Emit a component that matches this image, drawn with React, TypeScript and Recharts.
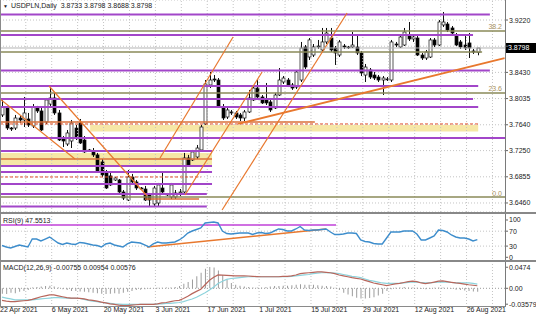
import React from "react";
import {
  Bar,
  CartesianGrid,
  ComposedChart,
  Line,
  ReferenceArea,
  ReferenceLine,
  XAxis,
  YAxis,
} from "recharts";

// daily USDPLN candles, 22 Apr - 27 Aug 2021 (broker feed with Sunday bars)
const open = [
  3.7788, 3.7893, 3.7591, 3.7591, 3.7742, 3.7712, 3.7727, 3.7621, 3.7893, 3.7848,
  3.7682, 3.7953, 3.8044, 3.7818, 3.744, 3.735, 3.7395, 3.7591, 3.7667, 3.741,
  3.7245, 3.7245, 3.7185, 3.7079, 3.6928, 3.6868, 3.6807, 3.6807, 3.6626, 3.6505,
  3.6852, 3.6777, 3.6686, 3.6671, 3.6581, 3.6445, 3.646, 3.6686, 3.6596, 3.655,
  3.655, 3.6611, 3.6626, 3.7139, 3.7109, 3.7154, 3.726, 3.7652, 3.824, 3.833,
  3.8315, 3.7908, 3.7757, 3.7833, 3.7818, 3.7788, 3.7742, 3.7833, 3.8014, 3.8194,
  3.8059, 3.8014, 3.7984, 3.7893, 3.8089, 3.8285, 3.8315, 3.824, 3.8209, 3.8315,
  3.8813, 3.8662, 3.8692, 3.8813, 3.8768, 3.8889, 3.8949, 3.8798, 3.8692, 3.8828,
  3.8813, 3.8813, 3.8813, 3.8723, 3.839, 3.8466, 3.839, 3.836, 3.8315, 3.833,
  3.8315, 3.8858, 3.8813, 3.8843, 3.8979, 3.8934, 3.8949, 3.8692, 3.8647, 3.8662,
  3.8919, 3.8843, 3.9145, 3.916, 3.91, 3.8994, 3.8889, 3.8843, 3.8874, 3.8753,
  3.8733,
];
const high = [
  3.8014, 3.7924, 3.7606, 3.7788, 3.7773, 3.8059, 3.7818, 3.7953, 3.7924, 3.7893,
  3.8044, 3.8209, 3.812, 3.7863, 3.747, 3.7561, 3.7712, 3.7637, 3.7727, 3.747,
  3.7275, 3.7289, 3.7215, 3.7124, 3.6958, 3.6913, 3.6852, 3.6822, 3.6656, 3.6958,
  3.6898, 3.6807, 3.6701, 3.6717, 3.6611, 3.6717, 3.6762, 3.6913, 3.6611, 3.6762,
  3.6656, 3.6671, 3.7215, 3.7185, 3.726, 3.7335, 3.7637, 3.8315, 3.8436, 3.839,
  3.8345, 3.7953, 3.7893, 3.7863, 3.7848, 3.7818, 3.7863, 3.8165, 3.8225, 3.8315,
  3.8089, 3.827, 3.8014, 3.812, 3.8496, 3.8375, 3.8345, 3.827, 3.8466, 3.8889,
  3.8843, 3.8949, 3.8858, 3.8919, 3.91, 3.91, 3.91, 3.8828, 3.8919, 3.8858,
  3.8828, 3.9039, 3.8994, 3.8753, 3.8557, 3.8496, 3.8436, 3.839, 3.8375, 3.836,
  3.8919, 3.8889, 3.8994, 3.91, 3.919, 3.8994, 3.8979, 3.8723, 3.8768, 3.8949,
  3.8949, 3.922, 3.9341, 3.919, 3.913, 3.9024, 3.8919, 3.9009, 3.9024, 3.8783,
  3.8798,
];
const low = [
  3.7757, 3.7561, 3.7546, 3.7561, 3.7667, 3.7606, 3.7606, 3.7591, 3.7818, 3.7546,
  3.7652, 3.7893, 3.7788, 3.7395, 3.7304, 3.732, 3.7289, 3.741, 3.735, 3.7215,
  3.723, 3.7154, 3.6913, 3.6852, 3.6671, 3.6717, 3.6792, 3.6611, 3.6505, 3.649,
  3.6747, 3.6656, 3.6656, 3.649, 3.6399, 3.6414, 3.6414, 3.6596, 3.6566, 3.652,
  3.652, 3.6566, 3.6596, 3.7003, 3.7094, 3.7124, 3.7245, 3.7637, 3.8194, 3.8285,
  3.7893, 3.7712, 3.7727, 3.7788, 3.7727, 3.7697, 3.7697, 3.7818, 3.7999, 3.8029,
  3.7953, 3.7938, 3.7833, 3.7878, 3.8074, 3.8255, 3.8209, 3.8165, 3.8179, 3.8285,
  3.8481, 3.8617, 3.8662, 3.8783, 3.8738, 3.8858, 3.8738, 3.8542, 3.8662, 3.8783,
  3.8783, 3.8798, 3.8692, 3.8375, 3.8285, 3.833, 3.8315, 3.8285, 3.8089, 3.83,
  3.8285, 3.8813, 3.8798, 3.8828, 3.8904, 3.8889, 3.8677, 3.8617, 3.8617, 3.8647,
  3.8813, 3.8828, 3.9115, 3.9039, 3.8994, 3.8828, 3.8783, 3.8768, 3.8647, 3.8708,
  3.8688,
];
const close = [
  3.7908, 3.7591, 3.7576, 3.7742, 3.7712, 3.7818, 3.7637, 3.7908, 3.7848, 3.7561,
  3.8014, 3.8044, 3.7818, 3.741, 3.7395, 3.7516, 3.7667, 3.744, 3.7365, 3.723,
  3.726, 3.7185, 3.6928, 3.6883, 3.6686, 3.6732, 3.6837, 3.6626, 3.6535, 3.6852,
  3.6777, 3.6686, 3.6671, 3.6505, 3.6505, 3.6686, 3.6732, 3.6626, 3.6581, 3.6732,
  3.6611, 3.6626, 3.7139, 3.7034, 3.723, 3.7289, 3.7606, 3.8255, 3.8315, 3.8315,
  3.7908, 3.7742, 3.7863, 3.7818, 3.7757, 3.7742, 3.7833, 3.8044, 3.8194, 3.8059,
  3.7969, 3.7969, 3.7863, 3.8089, 3.8315, 3.8345, 3.824, 3.8194, 3.8436, 3.8798,
  3.8511, 3.8919, 3.8813, 3.8828, 3.8889, 3.9024, 3.8768, 3.8723, 3.8889, 3.8813,
  3.8806, 3.8843, 3.8723, 3.8421, 3.8511, 3.836, 3.8345, 3.8315, 3.8345, 3.8323,
  3.8889, 3.8843, 3.8964, 3.9039, 3.8934, 3.8964, 3.8692, 3.8647, 3.8738, 3.8919,
  3.8843, 3.919, 3.919, 3.907, 3.9024, 3.8843, 3.8813, 3.8798, 3.8798, 3.8738,
  3.8798,
];

const rsi = [
  31.6, 27.6, 24.9, 29, 33, 30.3, 27.6, 49, 49, 43.7,
  49, 54.4, 46.4, 38.3, 34.3, 38.3, 35.7, 34.3, 39.7, 38.3,
  35.7, 33, 31.6, 27.6, 35.7, 38.3, 33, 30.3, 27.6, 35.7,
  41, 39.7, 38.3, 33, 27.6, 35.7, 41, 38.3, 38.3, 39.7,
  41, 46.4, 54.4, 65.1, 70.5, 74.5, 78.6, 92, 93.3, 94.6,
  92, 70.5, 63.8, 62.5, 63.8, 65.1, 65.1, 65.1, 61.1, 65.1,
  66.5, 63.8, 65.1, 70.5, 75.9, 74.5, 70.5, 70.5, 75.9, 82.6,
  73.2, 71.8, 73.2, 73.2, 74.5, 75.9, 67.8, 61.1, 61.1, 62.5,
  65.1, 65.1, 63.8, 46.4, 42.4, 41, 37, 35.7, 35.7, 51.7,
  67.8, 67.8, 67.8, 70.5, 70.5, 70.5, 62.5, 46.4, 46.4, 51.7,
  57.1, 73.2, 71.8, 67.8, 59.8, 54.4, 51.7, 51.7, 49, 43.7,
  47.55,
];

const macdMain = [
  -0.027, -0.029, -0.03, -0.03, -0.029, -0.028, -0.027, -0.025, -0.022, -0.019,
  -0.017, -0.015, -0.015, -0.017, -0.019, -0.021, -0.022, -0.022, -0.0225, -0.024,
  -0.026, -0.027, -0.029, -0.031, -0.033, -0.035, -0.036, -0.038, -0.039, -0.039,
  -0.038, -0.037, -0.036, -0.036, -0.036, -0.036, -0.035, -0.033, -0.032, -0.03,
  -0.028, -0.027, -0.023, -0.018, -0.012, -0.007, -0.002, 0.008, 0.018, 0.025,
  0.03, 0.0295, 0.029, 0.0285, 0.028, 0.028, 0.028, 0.0277, 0.027, 0.0265,
  0.026, 0.026, 0.026, 0.026, 0.026, 0.027, 0.027, 0.028, 0.03, 0.033,
  0.034, 0.035, 0.036, 0.037, 0.037, 0.036, 0.035, 0.033, 0.03, 0.028,
  0.026, 0.024, 0.0225, 0.021, 0.018, 0.015, 0.012, 0.01, 0.008, 0.006,
  0.008, 0.01, 0.011, 0.013, 0.015, 0.016, 0.015, 0.012, 0.0105, 0.012,
  0.014, 0.016, 0.0165, 0.015, 0.0135, 0.012, 0.011, 0.0095, 0.008, 0.0068,
  0.00576,
];
const macdSignal = [
  -0.02, -0.022, -0.024, -0.026, -0.026, -0.026, -0.026, -0.026, -0.025, -0.024,
  -0.023, -0.022, -0.021, -0.021, -0.0215, -0.022, -0.0225, -0.0225, -0.023, -0.025,
  -0.027, -0.029, -0.03, -0.032, -0.033, -0.034, -0.035, -0.0355, -0.036, -0.036,
  -0.036, -0.036, -0.036, -0.036, -0.036, -0.036, -0.035, -0.035, -0.034, -0.034,
  -0.033, -0.032, -0.03, -0.027, -0.024, -0.02, -0.015, -0.01, -0.004, 0.003,
  0.011, 0.016, 0.02, 0.022, 0.023, 0.024, 0.025, 0.026, 0.026, 0.026,
  0.026, 0.026, 0.026, 0.026, 0.026, 0.026, 0.026, 0.027, 0.028, 0.029,
  0.03, 0.031, 0.033, 0.034, 0.035, 0.035, 0.0345, 0.034, 0.033, 0.031,
  0.029, 0.027, 0.026, 0.024, 0.021, 0.018, 0.016, 0.014, 0.012, 0.0113,
  0.0113, 0.0113, 0.0113, 0.012, 0.0135, 0.0145, 0.014, 0.013, 0.012, 0.012,
  0.013, 0.014, 0.0145, 0.014, 0.013, 0.012, 0.012, 0.0125, 0.012, 0.011,
  0.00954,
];
const macdHist = [
  -0.012, -0.013, -0.01, -0.011, -0.008, -0.006, -0.004, 0.002, 0.003, 0.004,
  0.005, 0.006, 0.004, 0.002, -0.002, -0.004, -0.006, -0.006, -0.007, -0.008,
  -0.009, -0.01, -0.011, -0.012, -0.013, -0.012, -0.011, -0.012, -0.01, -0.008,
  -0.006, -0.004, -0.003, -0.002, -0.001, 0, 0.001, 0.001, 0.002, 0.002,
  0.003, 0.005, 0.01, 0.014, 0.02, 0.027, 0.035, 0.044, 0.048, 0.047,
  0.04, 0.03, 0.02, 0.012, 0.008, 0.006, 0.004, 0.003, 0.002, 0.002,
  0.002, 0.003, 0.004, 0.005, 0.005, 0.006, 0.006, 0.007, 0.008, 0.009,
  0.008, 0.008, 0.008, 0.007, 0.006, 0.005, 0.004, 0.001, -0.004, -0.01,
  -0.014, -0.018, -0.021, -0.023, -0.023, -0.022, -0.02, -0.016, -0.012, -0.006,
  -0.002, 0.001, 0.002, 0.003, 0.002, 0.002, 0.001, -0.001, -0.002, -0.001,
  0.001, 0.002, 0.002, 0.001, -0.001, -0.003, -0.004, -0.005, -0.006, -0.007,
  -0.00755,
];

const dateTicks = [0, 12, 24, 36, 48, 60, 72, 84, 96, 108];
const dateLabels = [
  "22 Apr 2021", "6 May 2021", "20 May 2021", "3 Jun 2021", "17 Jun 2021",
  "1 Jul 2021", "15 Jul 2021", "29 Jul 2021", "12 Aug 2021", "26 Aug 2021",
];
const gridBars = [6, 12, 18, 24, 30, 36, 42, 48, 54, 60, 66, 72, 78, 84, 90, 96, 102, 108, 114];
const priceTicks = [3.922, 3.8825, 3.843, 3.8035, 3.764, 3.725, 3.6855, 3.646];
const rsiTicks = [100, 70, 30, 0];
const macdTicks = [0.0474, 0, -0.03579];
const macdTickLabels = ["0.0474", "0.00", "-0.03579"];

// drawn objects on the price window: [price, fromBar, toBar]
const purpleLevels = [
  [3.9303, -0.46, 112.9],
  [3.8995, -0.46, 109.0],
  [3.8458, -0.46, 112.9],
  [3.8225, -0.46, 110.2],
  [3.8029, -0.46, 109.0],
  [3.7908, -0.46, 110.2],
  [3.744, -0.46, 116.4],
  [3.7245, -0.46, 48.6],
  [3.7018, -0.46, 48.6],
  [3.6928, -0.46, 48.6],
  [3.6747, -0.46, 48.6],
  [3.6596, -0.46, 47.4],
  [3.6407, -0.46, 47.4],
];
const orangeLevels = [
  [3.7682, -0.46, 72.4],
  [3.7124, -0.46, 48.6],
  [3.652, 33.1, 45.6],
];
const dashedLevels = [
  [3.7652, -0.46, 110.2],
  [3.6852, -0.46, 46.0],
];
const fibLevels = [3.9055, 3.812, 3.655];
const fibNames = ["38.2", "23.6", "0.0"];
const oliveExtra = [3.8738];
// yellow zones: [top, bottom, fromBar, toBar]
const zones = [
  [3.7637, 3.7539, 20.4, 110.2],
  [3.7215, 3.7018, -0.46, 48.6],
];
// trend lines: [bar1, price1, bar2, price2]
const trendLines = [
  [-0.46, 3.8029, 16.9, 3.7124],
  [10.88, 3.8225, 33.56, 3.6565],
  [36.57, 3.7139, 53.47, 3.8964],
  [42.36, 3.6581, 60.19, 3.8436],
  [50.93, 3.6354, 79.86, 3.9326],
  [54.63, 3.7652, 116.3, 3.8647],
];
const rsiMarks = { level: 86.6, levelTo: 77.3, trend: [33.56, 27.6, 75, 75.9] };

const rows = open.map((o, i) => ({
  i,
  o,
  h: high[i],
  l: low[i],
  c: close[i],
  range: [low[i], high[i]],
  rsi: rsi[i],
  macd: macdMain[i],
  signal: macdSignal[i],
  hist: macdHist[i],
}));

const X_DOMAIN: [number, number] = [-0.463, 116.4];
const FONT = "'Liberation Sans', Arial, sans-serif";
const PURPLE = "#a246c9";
const OLIVE = "#8a8a58";
const ORANGE = "#e8782e";
const GRID = "#c4c4c4";
const last = close[close.length - 1];

function Candle(props: any) {
  const { x, y, width, height, payload } = props;
  if (!payload || x == null || y == null) return null;
  const top = Math.min(y, y + height);
  const span = Math.abs(height);
  const { o, h, l, c } = payload;
  const k = h - l > 0 ? span / (h - l) : 0;
  const py = (v: number) => top + (h - v) * k;
  const cx = Math.round(x + width / 2) + 0.5;
  const bTop = py(Math.max(o, c));
  const bBot = py(Math.min(o, c));
  const bull = c >= o;
  return (
    <g>
      <line x1={cx} x2={cx} y1={top} y2={top + span} stroke="#111" strokeWidth={1} />
      <rect
        x={cx - 1.5}
        y={bTop}
        width={3}
        height={Math.max(bBot - bTop, 0.8)}
        fill={bull ? "#fff" : "#000"}
        stroke="#111"
        strokeWidth={0.7}
      />
    </g>
  );
}

function PriceTag(props: any) {
  const { viewBox, text } = props;
  if (!viewBox) return null;
  const x = viewBox.x + viewBox.width + 1;
  return (
    <g>
      <rect x={x} y={viewBox.y - 5} width={31} height={10} fill="#000" />
      <text x={x + 2} y={viewBox.y + 2.5} fontSize={7} fill="#fff" fontFamily={FONT}>
        {text}
      </text>
    </g>
  );
}

function FibTag(props: any) {
  const { viewBox, text } = props;
  if (!viewBox) return null;
  return (
    <text
      x={viewBox.x + viewBox.width - 3}
      y={viewBox.y - 1.5}
      fontSize={7}
      fill="#a8905c"
      textAnchor="end"
      fontFamily={FONT}
    >
      {text}
    </text>
  );
}

function DateTick(props: any) {
  const { x, y, payload } = props;
  const idx = dateTicks.indexOf(payload.value);
  return (
    <text x={x - 2} y={y + 5} fontSize={7} fill="#222" fontFamily={FONT}>
      {dateLabels[idx]}
    </text>
  );
}

const axisTick = { fontSize: 7, fill: "#222", fontFamily: FONT };

function VGrid() {
  return (
    <>
      {gridBars.map((g) => (
        <ReferenceLine key={"v" + g} x={g - 0.5} stroke={GRID} strokeDasharray="1 2" ifOverflow="hidden" />
      ))}
    </>
  );
}

export default function App() {
  return (
    <div
      style={{
        position: "absolute",
        left: 0,
        top: 0,
        width: 536,
        height: 321,
        background: "#fff",
        overflow: "hidden",
        fontFamily: FONT,
      }}
    >
      {/* price window */}
      <div style={{ position: "absolute", left: 0, top: 0 }}>
        <ComposedChart width={536} height={212} data={rows} margin={{ top: 0, right: 0, bottom: 0, left: 0 }}>
          <CartesianGrid vertical={false} stroke={GRID} strokeDasharray="1 2" />
          <XAxis type="number" dataKey="i" domain={X_DOMAIN} allowDataOverflow hide />
          <YAxis
            orientation="right"
            width={31}
            domain={[3.6324, 3.9522]}
            allowDataOverflow
            ticks={priceTicks}
            interval={0}
            tickFormatter={(v: number) => (v === 3.8825 ? "" : v.toFixed(4))}
            tick={axisTick}
            tickSize={3}
            tickMargin={1}
            axisLine={false}
            tickLine={{ stroke: "#666" }}
          />
          {VGrid()}
          {zones.map((z, k) => (
            <ReferenceArea
              key={"z" + k}
              x1={z[2]}
              x2={z[3]}
              y1={z[1]}
              y2={z[0]}
              fill="#f6e7a6"
              fillOpacity={1}
              stroke="none"
              ifOverflow="hidden"
            />
          ))}
          {purpleLevels.map((l, k) => (
            <ReferenceLine
              key={"p" + k}
              segment={[{ x: l[1], y: l[0] }, { x: l[2], y: l[0] }]}
              stroke={PURPLE}
              strokeWidth={2}
              ifOverflow="hidden"
            />
          ))}
          {fibLevels.map((f, k) => (
            <ReferenceLine
              key={"f" + k}
              y={f}
              stroke={OLIVE}
              strokeWidth={1.6}
              label={<FibTag text={fibNames[k]} />}
            />
          ))}
          {oliveExtra.map((f, k) => (
            <ReferenceLine
              key={"o" + k}
              segment={[{ x: -0.46, y: f }, { x: 111.1, y: f }]}
              stroke={OLIVE}
              strokeWidth={1.6}
              ifOverflow="hidden"
            />
          ))}
          {orangeLevels.map((l, k) => (
            <ReferenceLine
              key={"r" + k}
              segment={[{ x: l[1], y: l[0] }, { x: l[2], y: l[0] }]}
              stroke="#d9703a"
              strokeWidth={1.5}
              ifOverflow="hidden"
            />
          ))}
          {dashedLevels.map((l, k) => (
            <ReferenceLine
              key={"d" + k}
              segment={[{ x: l[1], y: l[0] }, { x: l[2], y: l[0] }]}
              stroke="#e0502a"
              strokeWidth={1}
              strokeDasharray="3 2"
              ifOverflow="hidden"
            />
          ))}
          {trendLines.map((t, k) => (
            <ReferenceLine
              key={"t" + k}
              segment={[{ x: t[0], y: t[1] }, { x: t[2], y: t[3] }]}
              stroke={ORANGE}
              strokeWidth={k === 5 ? 1.8 : 1.2}
              ifOverflow="hidden"
            />
          ))}
          <ReferenceLine y={last} stroke="#b4b4b4" strokeWidth={1} label={<PriceTag text={last.toFixed(4)} />} />
          <Bar dataKey="range" barSize={3} shape={<Candle />} isAnimationActive={false} />
        </ComposedChart>
      </div>

      {/* RSI window */}
      <div style={{ position: "absolute", left: 0, top: 215 }}>
        <ComposedChart width={536} height={49} data={rows} margin={{ top: 0, right: 0, bottom: 5, left: 0 }}>
          <XAxis type="number" dataKey="i" domain={X_DOMAIN} allowDataOverflow hide />
          <YAxis
            orientation="right"
            width={31}
            domain={[-4.6, 113.4]}
            allowDataOverflow
            ticks={rsiTicks}
            interval={0}
            tick={axisTick}
            tickSize={3}
            tickMargin={1}
            axisLine={false}
            tickLine={{ stroke: "#666" }}
          />
          {VGrid()}
          <ReferenceLine y={70} stroke={GRID} strokeDasharray="1 2" />
          <ReferenceLine y={30} stroke={GRID} strokeDasharray="1 2" />
          <ReferenceLine
            segment={[{ x: -0.46, y: rsiMarks.level }, { x: rsiMarks.levelTo, y: rsiMarks.level }]}
            stroke="#c040d8"
            strokeWidth={1.6}
            ifOverflow="hidden"
          />
          <ReferenceLine
            segment={[
              { x: rsiMarks.trend[0], y: rsiMarks.trend[1] },
              { x: rsiMarks.trend[2], y: rsiMarks.trend[3] },
            ]}
            stroke={ORANGE}
            strokeWidth={1.4}
            ifOverflow="hidden"
          />
          <Line
            type="linear"
            dataKey="rsi"
            stroke="#3d8dcc"
            strokeWidth={1.4}
            dot={false}
            isAnimationActive={false}
          />
        </ComposedChart>
      </div>

      {/* MACD window + date scale */}
      <div style={{ position: "absolute", left: 0, top: 262 }}>
        <ComposedChart width={536} height={59} data={rows} margin={{ top: 0, right: 0, bottom: 0, left: 0 }}>
          <XAxis
            type="number"
            dataKey="i"
            domain={X_DOMAIN}
            allowDataOverflow
            ticks={dateTicks}
            interval={0}
            height={14}
            axisLine={false}
            tickLine={false}
            tickSize={0}
            tickMargin={0}
            tick={<DateTick />}
          />
          <YAxis
            orientation="right"
            width={31}
            domain={[-0.0421, 0.0592]}
            allowDataOverflow
            ticks={macdTicks}
            interval={0}
            tickFormatter={(v: number) => macdTickLabels[macdTicks.indexOf(v)]}
            tick={axisTick}
            tickSize={3}
            tickMargin={1}
            axisLine={false}
            tickLine={{ stroke: "#666" }}
          />
          {VGrid()}
          <ReferenceLine y={0} stroke="#9a9a9a" strokeDasharray="1 2" />
          <Bar dataKey="hist" barSize={1} fill="#9c9c9c" isAnimationActive={false} />
          <Line type="linear" dataKey="signal" stroke="#8dd3dc" strokeWidth={1.2} dot={false} isAnimationActive={false} />
          <Line type="linear" dataKey="macd" stroke="#b8665c" strokeWidth={1.2} dot={false} isAnimationActive={false} />
        </ComposedChart>
      </div>

      {/* window frames */}
      <div style={{ position: "absolute", left: 0, top: 0, width: 1, height: 307, background: "#8a8a8a" }} />
      <div style={{ position: "absolute", left: 505, top: 0, width: 1, height: 307, background: "#7a7a7a" }} />
      <div style={{ position: "absolute", left: 0, top: 212, width: 536, height: 2, background: "#888" }} />
      <div style={{ position: "absolute", left: 0, top: 260, width: 536, height: 2, background: "#888" }} />
      <div style={{ position: "absolute", left: 0, top: 306, width: 506, height: 1, background: "#8a8a8a" }} />

      {/* window titles */}
      <div style={{ position: "absolute", left: 3, top: 1, fontSize: 7, color: "#222", whiteSpace: "nowrap", lineHeight: "9px" }}>
        <span style={{ fontSize: 5, marginRight: 3 }}>▼</span>
        USDPLN,Daily&nbsp;&nbsp;3.8733 3.8798 3.8688 3.8798
      </div>
      <div style={{ position: "absolute", left: 3, top: 216, fontSize: 7, color: "#222", whiteSpace: "nowrap", lineHeight: "9px" }}>
        RSI(9) 47.5513
      </div>
      <div style={{ position: "absolute", left: 3, top: 263, fontSize: 7, color: "#222", whiteSpace: "nowrap", lineHeight: "9px" }}>
        MACD(12,26,9) -0.00755 0.00954 0.00576
      </div>
    </div>
  );
}
